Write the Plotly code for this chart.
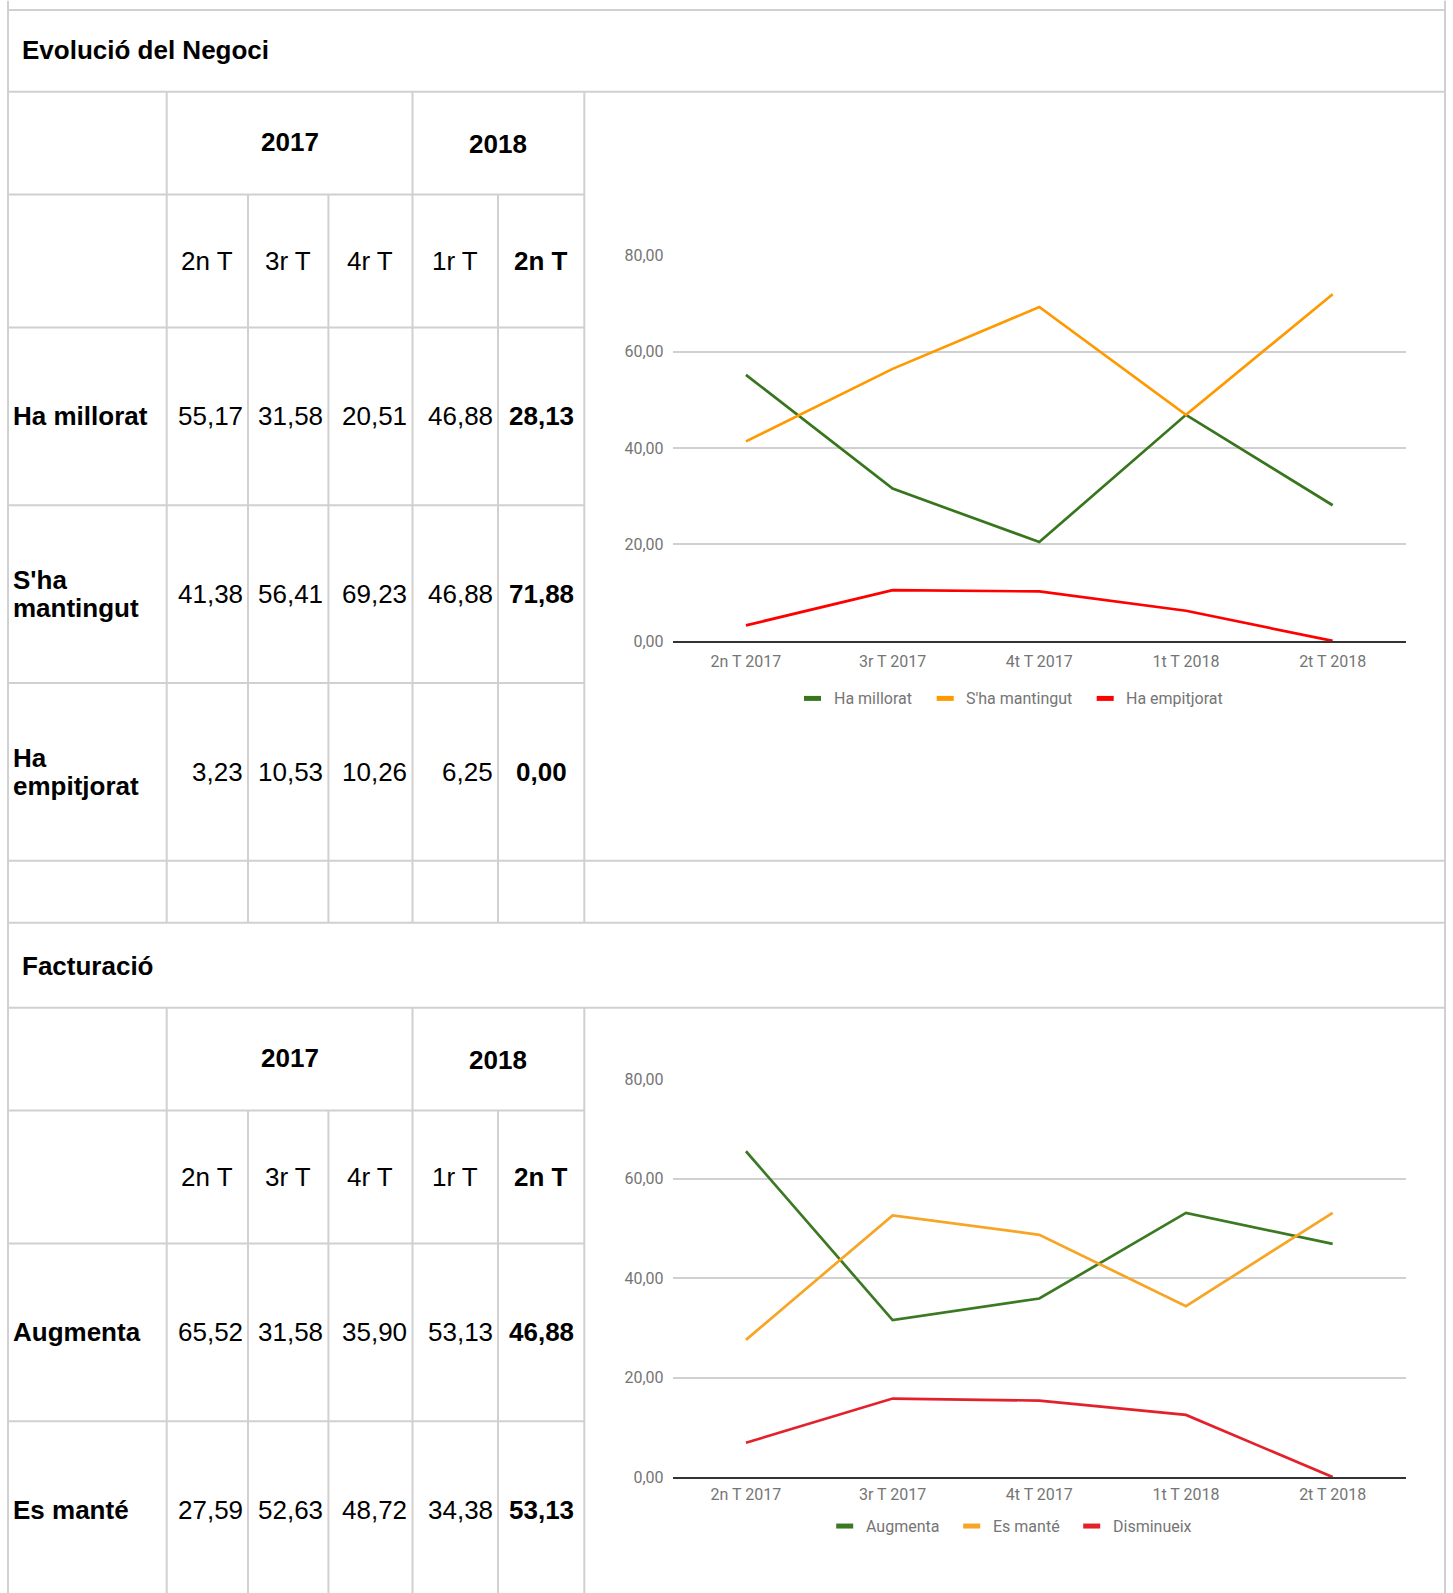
import plotly.graph_objects as go

W, H = 1453, 1593

# ---------------- data ----------------
years = ["2017", "2018"]
quarters = ["2n T", "3r T", "4r T", "1r T", "2n T"]
chart_categories = ["2n T 2017", "3r T 2017", "4t T 2017", "1t T 2018", "2t T 2018"]

neg_title = "Evolució del Negoci"
neg_rows = ["Ha millorat", "S'ha mantingut", "Ha empitjorat"]
neg_millorat = [55.17, 31.58, 20.51, 46.88, 28.13]
neg_mantingut = [41.38, 56.41, 69.23, 46.88, 71.88]
neg_empitjorat = [3.23, 10.53, 10.26, 6.25, 0.00]

fac_title = "Facturació"
fac_rows = ["Augmenta", "Es manté", "Disminueix"]
fac_augmenta = [65.52, 31.58, 35.90, 53.13, 46.88]
fac_mante = [27.59, 52.63, 48.72, 34.38, 53.13]
fac_disminueix = [6.90, 15.79, 15.38, 12.50, 0.00]

y_ticks = [0, 20, 40, 60, 80]

# ---------------- styles / layout geometry ----------------
colors1 = ["#38761d", "#ff9900", "#ff0000"]
colors2 = ["#3b7a22", "#f6a524", "#e3212b"]
GRID = "#d0d0d0"
TFONT = "Liberation Sans, Arial, sans-serif"
CFONT = "Roboto, sans-serif"
CGRAY = "#757575"

LEFT, RIGHT = 8, 1445
COLS = [166.7, 248, 328.4, 412.5, 498, 584.3]
TITLE_H, YEAR_H, Q_H, ROW_H, BLANK_H = 85, 103, 133, 177.8, 62

# vertical page-placement correction (target pixel -> figure pixel)
V_OFF, V_SCL = 8.3, 0.9885

def px(x):
    return x / W

def fy(y):
    return (y - V_OFF) / V_SCL

def py(y):
    return 1 - fy(y) / H

shapes = []
annotations = []

def hline(x0, x1, y):
    yy = 1 - max(fy(y), 1.0) / H
    shapes.append(dict(type="line", xref="paper", yref="paper", x0=px(x0), x1=px(x1),
                       y0=yy, y1=yy, line=dict(color=GRID, width=2), layer="above"))

def vline(x, y0, y1):
    shapes.append(dict(type="line", xref="paper", yref="paper", x0=px(x), x1=px(x),
                       y0=py(y0), y1=py(y1), line=dict(color=GRID, width=2), layer="above"))

def text(x, y, s, size=26, anchor="left", bold=False, color="#000000", family=TFONT):
    if y > H + 20:
        return
    annotations.append(dict(xref="paper", yref="paper", x=px(x), y=py(y),
                            text=f"<b>{s}</b>" if bold else s, showarrow=False,
                            xanchor=anchor, yanchor="middle", borderpad=0,
                            font=dict(family=family, size=size, color=color)))

def fmt(v):
    return f"{v:.2f}".replace(".", ",")

def draw_section(top, title, row_labels, series, blank_row):
    y_title = top + TITLE_H
    y_year = y_title + YEAR_H
    y_q = y_year + Q_H
    edges = [y_q + i * ROW_H for i in range(len(row_labels) + 1)]
    bottom = edges[-1] + BLANK_H if blank_row else H + 30

    hline(LEFT, RIGHT, top)
    hline(LEFT, RIGHT, y_title)
    for c in (COLS[0], COLS[3], COLS[5]):
        vline(c, y_title, bottom)
    for c in (COLS[1], COLS[2], COLS[4]):
        vline(c, y_year, bottom)
    hline(LEFT, COLS[5], y_year)
    hline(LEFT, COLS[5], y_q)
    for e in edges[1:-1]:
        hline(LEFT, COLS[5], e)
    if blank_row:
        hline(LEFT, RIGHT, edges[-1])

    text(20.5, top + 43, title, bold=True)
    yc = (y_title + y_year) / 2 - 1
    text((COLS[0] + COLS[3]) / 2, yc, years[0], anchor="center", bold=True)
    text((COLS[3] + COLS[5]) / 2, yc + 2, years[1], anchor="center", bold=True)
    qc = (y_year + y_q) / 2
    for i, q in enumerate(quarters):
        text((COLS[i] + COLS[i + 1]) / 2, qc, q, anchor="center", bold=(i == len(quarters) - 1))

    for r, (lab, vals) in enumerate(zip(row_labels, series)):
        rc = (edges[r] + edges[r + 1]) / 2
        if len(lab) > 12:
            a, b = lab.split(" ", 1)
            text(12.3, rc - 14.2, a, bold=True)
            text(12.3, rc + 14.2, b, bold=True)
        else:
            text(12.3, rc, lab, bold=True)
        for i, v in enumerate(vals):
            if i == len(vals) - 1:
                text((COLS[i] + COLS[i + 1]) / 2, rc, fmt(v), anchor="center", bold=True)
            else:
                text(COLS[i + 1] - 4.5, rc, fmt(v), anchor="right")
    return bottom

# outer borders
vline(LEFT, 0, H + 30)
vline(RIGHT, 0, H + 30)

sec1_bottom = draw_section(6, neg_title, neg_rows,
                           [neg_millorat, neg_mantingut, neg_empitjorat], True)
draw_section(sec1_bottom, fac_title, fac_rows,
             [fac_augmenta, fac_mante, fac_disminueix], False)

# ---------------- charts ----------------
fig = go.Figure()
for name, vals, col in zip(neg_rows, [neg_millorat, neg_mantingut, neg_empitjorat], colors1):
    fig.add_trace(go.Scatter(x=chart_categories, y=vals, mode="lines", name=name,
                             line=dict(color=col, width=2.7), xaxis="x", yaxis="y"))
for name, vals, col in zip(fac_rows, [fac_augmenta, fac_mante, fac_disminueix], colors2):
    fig.add_trace(go.Scatter(x=chart_categories, y=vals, mode="lines", name=name,
                             line=dict(color=col, width=2.7), xaxis="x2", yaxis="y2"))

# custom legends (small colored bars + labels)
def legend(names, cols, xs, y):
    for n, c, x in zip(names, cols, xs):
        shapes.append(dict(type="rect", xref="paper", yref="paper",
                           x0=px(x), x1=px(x + 17), y0=py(y + 2.5), y1=py(y - 2.5),
                           fillcolor=c, line=dict(width=0), layer="above"))
        text(x + 28.7, y, n, size=16, color=CGRAY, family=CFONT)

legend(neg_rows, colors1, [804, 936.7, 1096.7], 698)
legend(fac_rows, colors2, [836.2, 963.2, 1083.2], 1526)

x_dom = [px(672.6), px(1406)]
x_range = [-0.5, 4.5]
xaxis_common = dict(type="category", range=x_range, domain=x_dom, showgrid=False,
                    showline=True, linecolor="#333333", linewidth=1.5, ticks="",
                    zeroline=False,
                    tickfont=dict(family=CFONT, size=16, color=CGRAY), fixedrange=True)
yaxis_common = dict(range=[0, 80], tickvals=y_ticks, tickformat=".2f", showgrid=True,
                    gridcolor=GRID, gridwidth=1.5, zeroline=False, showline=False,
                    ticks="", ticklabelstandoff=8,
                    tickfont=dict(family=CFONT, size=16, color=CGRAY), fixedrange=True)

fig.update_layout(
    width=W, height=H, autosize=False,
    margin=dict(l=0, r=0, t=0, b=0),
    paper_bgcolor="white", plot_bgcolor="white",
    showlegend=False, separators=",.",
    xaxis=dict(xaxis_common, anchor="y", ticklabelstandoff=5),
    yaxis=dict(yaxis_common, anchor="x", domain=[py(640.5), py(254.5)]),
    xaxis2=dict(xaxis_common, anchor="y2", ticklabelstandoff=2),
    yaxis2=dict(yaxis_common, anchor="x2", domain=[py(1477), py(1079)]),
    shapes=shapes, annotations=annotations,
)

fig.write_html("out.html", config={"displayModeBar": False},
               post_script="document.body.style.margin='0px';"
                           "document.documentElement.style.overflow='hidden';")
